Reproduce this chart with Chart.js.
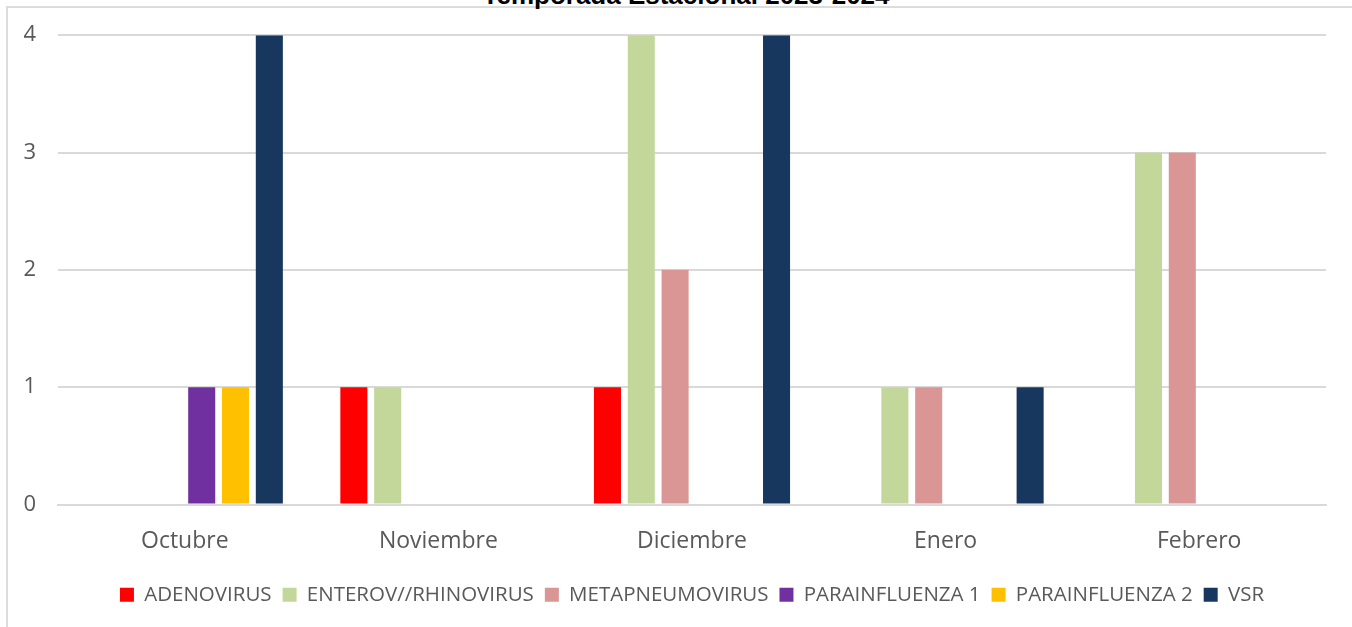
<!DOCTYPE html>
<html>
<head>
<meta charset="utf-8">
<script src="https://cdn.jsdelivr.net/npm/chart.js@4.4.1/dist/chart.umd.min.js"></script>
<style>
  html, body { margin: 0; padding: 0; background: #fff; }
  #wrap { position: relative; width: 1352px; height: 627px; overflow: hidden; }
  #frame { position: absolute; left: 6px; top: 6px; width: 1400px; height: 700px;
           border-top: 2px solid #dcdcdc; border-left: 2px solid #dcdcdc; }
  #title { position: absolute; left: 0; top: -18px; width: 1372px; text-align: center;
           font: bold 26px "Liberation Sans", Arial, sans-serif; line-height: 26px; color: #000; }
  #chart { position: absolute; left: 0; top: 0; }
</style>
</head>
<body>
<div id="wrap">
  <div id="frame"></div>
  <div id="title">Temporada Estacional 2023-2024</div>
  <canvas id="chart" width="1352" height="627"></canvas>
</div>
<script>
const months = ['Octubre', 'Noviembre', 'Diciembre', 'Enero', 'Febrero'];
const seriesNames = ['ADENOVIRUS', 'ENTEROV//RHINOVIRUS', 'METAPNEUMOVIRUS', 'PARAINFLUENZA 1', 'PARAINFLUENZA 2', 'VSR'];
const adenovirus = [0, 1, 1, 0, 0];
const enteroRhino = [0, 1, 4, 1, 3];
const metapneumo = [0, 0, 2, 1, 3];
const parainfluenza1 = [1, 0, 0, 0, 0];
const parainfluenza2 = [1, 0, 0, 0, 0];
const vsr = [4, 0, 4, 1, 0];
const yTicks = [0, 1, 2, 3, 4];

const colors = ['#ff0000', '#c4d79b', '#da9694', '#7030a0', '#ffc000', '#17375e'];
const values = [adenovirus, enteroRhino, metapneumo, parainfluenza1, parainfluenza2, vsr];

const textColor = '#595959';
const gridColor = '#d9d9d9';
const fontFamily = '"Open Sans", sans-serif';

// legend sits centred under the plot area, not the whole canvas
const legendShift = {
    id: 'legendShift',
    afterLayout(chart) {
        const lg = chart.legend;
        if (!lg) return;
        const mid = (chart.chartArea.left + chart.chartArea.right) / 2;
        const dx = mid - (lg.left + lg.right) / 2;
        lg.left += dx;
        lg.right += dx;
    }
};

const ctx = document.getElementById('chart').getContext('2d');

new Chart(ctx, {
    type: 'bar',
    data: {
        labels: months,
        datasets: seriesNames.map((name, i) => ({
            label: name,
            data: values[i],
            backgroundColor: colors[i],
            borderWidth: 0,
            categoryPercentage: 0.8,
            barPercentage: 0.8
        }))
    },
    options: {
        responsive: false,
        animation: false,
        layout: { padding: { top: 35, right: 26, bottom: 12, left: 0 } },
        plugins: {
            title: { display: false },
            tooltip: { enabled: false },
            legend: {
                position: 'bottom',
                labels: {
                    boxWidth: 14,
                    boxHeight: 14,
                    padding: 11,
                    color: textColor,
                    font: { family: fontFamily, size: 20.5 }
                }
            }
        },
        scales: {
            x: {
                grid: { display: false, drawTicks: false },
                border: { color: gridColor, width: 2 },
                ticks: { color: textColor, padding: 23, font: { family: fontFamily, size: 23 } },
                afterFit: (scale) => { scale.height = 69; }
            },
            y: {
                min: 0,
                max: 4,
                afterBuildTicks: (scale) => { scale.ticks = yTicks.map(v => ({ value: v })); },
                grid: { color: gridColor, lineWidth: 2, drawTicks: false },
                border: { display: false },
                ticks: { color: textColor, padding: 22, font: { family: fontFamily, size: 22 } },
                afterFit: (scale) => { scale.width = 58; }
            }
        }
    },
    plugins: [legendShift]
});
</script>
</body>
</html>
